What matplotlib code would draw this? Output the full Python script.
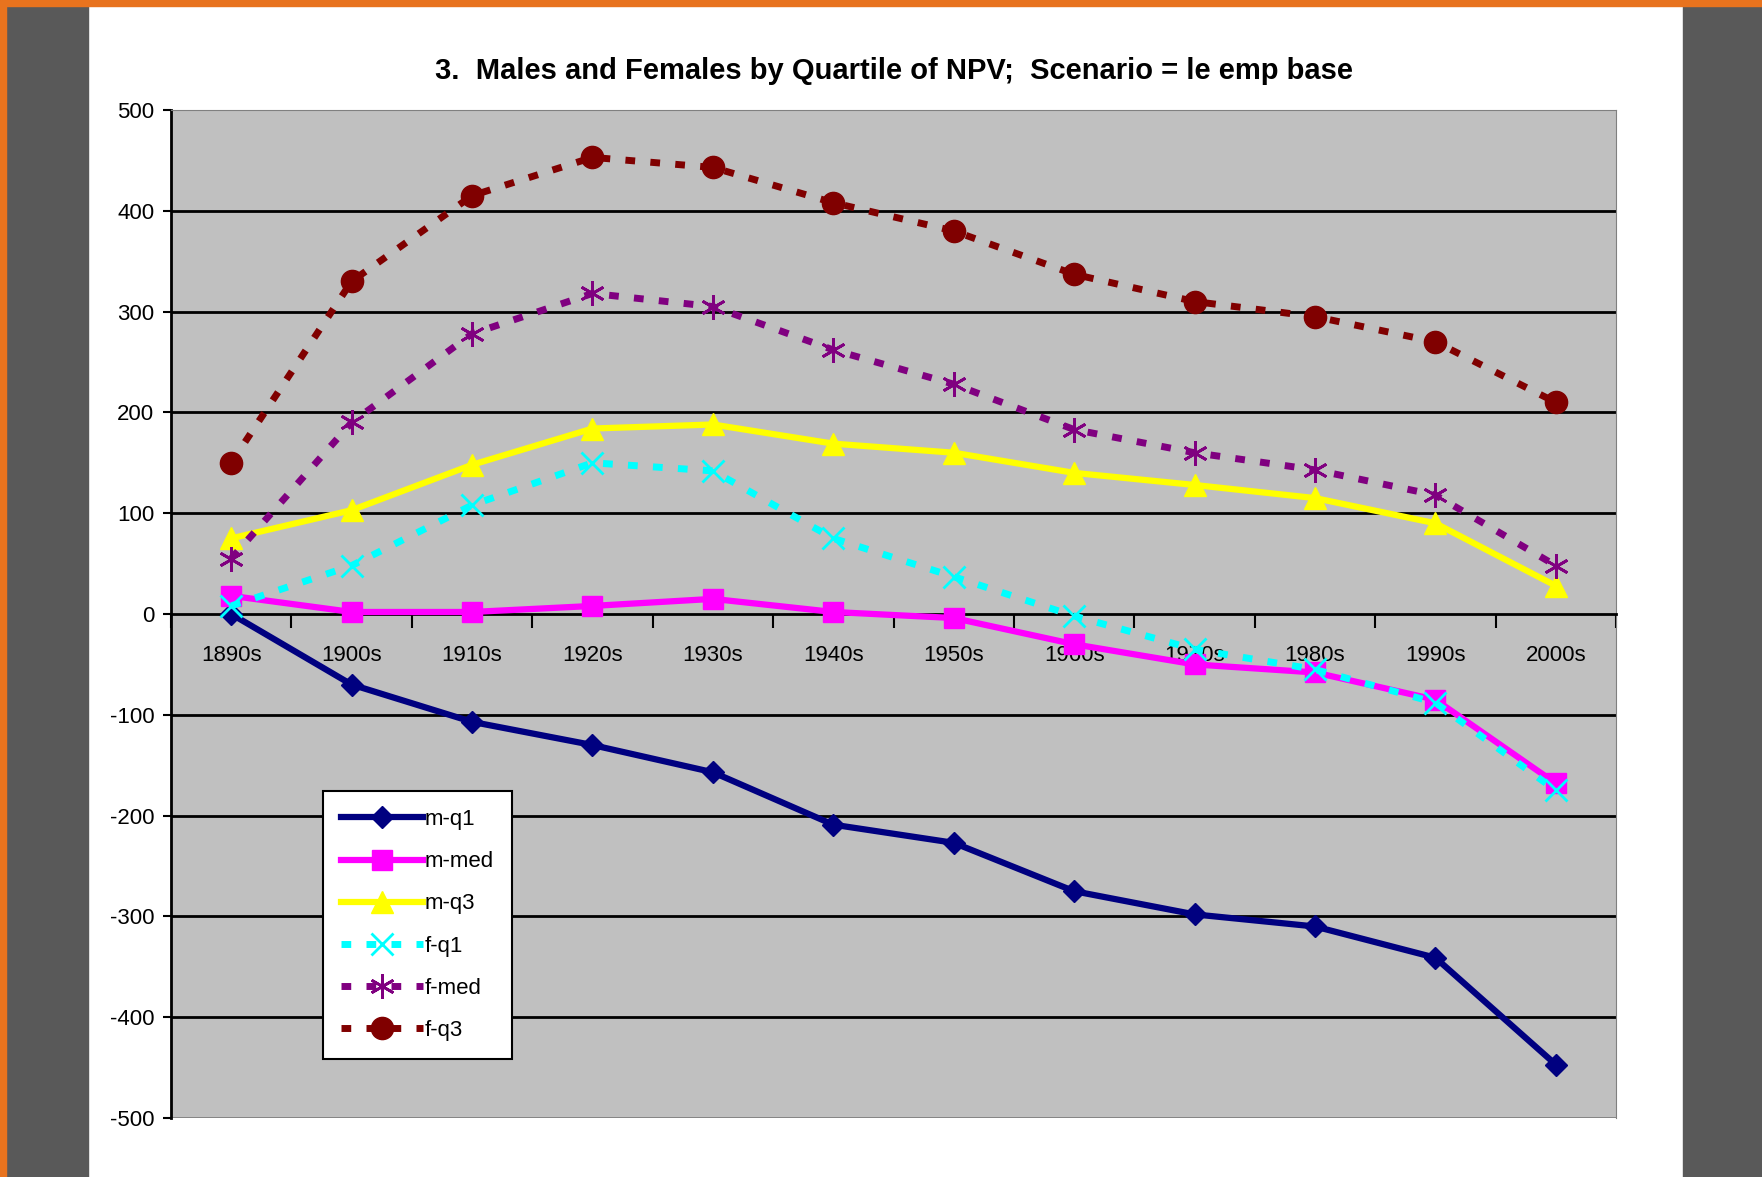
import numpy as np
import matplotlib.pyplot as plt
from matplotlib.patches import Rectangle

plt.rcParams['font.family'] = ['Liberation Sans Narrow', 'Liberation Sans', 'DejaVu Sans']
plt.rcParams['axes.unicode_minus'] = False

# данные
decades = ['1890s', '1900s', '1910s', '1920s', '1930s', '1940s',
           '1950s', '1960s', '1970s', '1980s', '1990s', '2000s']
m_q1 = [0, -70, -107, -130, -157, -209, -227, -275, -298, -310, -341, -447]
m_med = [18, 2, 2, 8, 15, 2, -4, -30, -50, -58, -85, -168]
m_q3 = [75, 103, 148, 184, 188, 169, 160, 140, 128, 115, 90, 28]
f_q1 = [8, 48, 108, 150, 142, 75, 37, -2, -35, -55, -88, -175]
f_med = [55, 190, 278, 318, 305, 262, 228, 183, 160, 143, 118, 48]
f_q3 = [150, 330, 415, 453, 443, 408, 380, 337, 310, 295, 270, 210]

x = np.arange(len(decades))

fig = plt.figure(figsize=(17.62, 11.77), dpi=100, facecolor='white')
# рамка вокруг страницы
fig.patches.append(Rectangle((0, 0), 88 / 1762, 1, transform=fig.transFigure, color='#595959', zorder=0))
fig.patches.append(Rectangle((1683 / 1762, 0), 79 / 1762, 1, transform=fig.transFigure, color='#595959', zorder=0))
fig.patches.append(Rectangle((0, 0), 6 / 1762, 1, transform=fig.transFigure, color='#E8731E', zorder=1))
fig.patches.append(Rectangle((0, 1 - 6 / 1177), 1, 6 / 1177, transform=fig.transFigure, color='#E8731E', zorder=1))

ax = fig.add_axes([171 / 1762, 1 - 1118 / 1177, 1445 / 1762, 1008 / 1177])
ax.set_facecolor('#C0C0C0')

for yv in range(-400, 500, 100):
    if yv != 0:
        ax.axhline(yv, color='black', lw=2, zorder=1)

ax.plot(x, m_q1, color='#000080', lw=4.5, marker='D', ms=11, label='m-q1', zorder=3)
ax.plot(x, m_med, color='#FF00FF', lw=4.5, marker='s', ms=15, label='m-med', zorder=3)
ax.plot(x, m_q3, color='#FFFF00', lw=4.5, marker='^', ms=16, label='m-q3', zorder=3)
ax.plot(x, f_q1, color='#00FFFF', lw=5, ls=(0, (1.4, 2.2)), marker='x', ms=16, mew=2,
        label='f-q1', zorder=3)
ax.plot(x, f_med, color='#800080', lw=5, ls=(0, (1.4, 2.2)), marker=(6, 2, 0), ms=18, mew=2,
        label='f-med', zorder=3)
ax.plot(x, f_q3, color='#800000', lw=5, ls=(0, (1.4, 2.2)), marker='o', ms=16,
        label='f-q3', zorder=3)

ax.set_xlim(-0.5, 11.5)
ax.set_ylim(-500, 500)
ax.set_yticks(range(-500, 501, 100))
ax.tick_params(axis='y', direction='out', length=6, width=1.5, labelsize=16, pad=6)

ax.spines['bottom'].set_position(('data', 0))
ax.spines['bottom'].set_linewidth(2)
ax.spines['left'].set_linewidth(2)
ax.spines['top'].set_color('#808080')
ax.spines['right'].set_color('#808080')
ax.axhline(-500, color='#808080', lw=2, zorder=2)
ax.set_xticks(np.arange(-0.5, 12, 1))
ax.set_xticklabels([])
ax.tick_params(axis='x', which='major', direction='out', length=10, width=1.5)
ax.set_xticks(x, minor=True)
ax.set_xticklabels(decades, minor=True)
ax.tick_params(axis='x', which='minor', length=0, labelsize=16, pad=22)

ax.set_title('3.  Males and Females by Quartile of NPV;  Scenario = le emp base',
             fontsize=21, fontweight='bold', pad=22)

leg = ax.legend(loc='lower left', bbox_to_anchor=(0.105, 0.059), borderaxespad=0,
                fontsize=16, frameon=True, fancybox=False, edgecolor='black',
                framealpha=1, handlelength=3.7, handletextpad=0.1,
                labelspacing=0.95, borderpad=0.8)
leg.get_frame().set_linewidth(1.5)
leg.set_zorder(5)

plt.savefig('out.png', dpi=100, facecolor=fig.get_facecolor())
